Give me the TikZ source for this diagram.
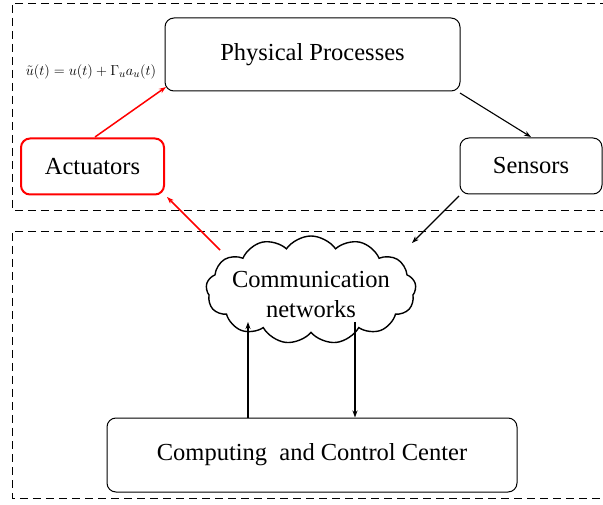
\documentclass[tikz,border=0pt]{standalone}
\usepackage{fontspec}
\setmainfont{Liberation Serif}
\usetikzlibrary{shapes.symbols,arrows.meta}
\begin{document}
\begin{tikzpicture}[x=1pt,y=-1pt,
  box/.style={draw,rounded corners=9pt,line width=1pt,font=\fontsize{24.5}{26}\selectfont},
  zone/.style={draw,line width=0.9pt,dash pattern=on 8pt off 5pt},
  arr/.style={-{Stealth[length=7pt,width=5pt]},line width=1.1pt},
  redarr/.style={arr,draw=red,line width=1.5pt}]
\useasboundingbox (0,0) rectangle (603,505);
\draw[zone] (608,3) -- (12,3) -- (12,210) -- (608,210);
\draw[zone] (608,231) -- (12,231) -- (12,498) -- (608,498);
\node[box,minimum width=295pt,minimum height=73pt] (pp) at (312.5,54.5) {Physical Processes};
\node[box,draw=red,line width=2pt,minimum width=143pt,minimum height=56pt] (act) at (92.5,166.5) {Actuators};
\node[box,minimum width=142pt,minimum height=56pt] (sen) at (531,166) {Sensors};
\node[cloud,cloud puffs=13,cloud puff arc=110,draw,line width=1.4pt,aspect=1.9,minimum width=210pt,minimum height=108pt,inner sep=0pt] (cn) at (311,290) {};
\node[align=center,font=\fontsize{24.5}{30}\selectfont] (cnt) at ([yshift=-5pt]cn.center) {Communication\\networks};
\node[box,minimum width=410pt,minimum height=74pt] (cc) at (312,455) {Computing\ \ and Control Center};
\node[font=\fontsize{15}{17}\selectfont] (eq) at (91,72) {$\tilde{u}(t)=u(t)+\Gamma_u a_u(t)$};
\coordinate (a1) at (95,137);
\coordinate (p1) at (166,87);
\draw[redarr] (a1) -- (p1);
\coordinate (c1) at (220,250);
\coordinate (a2) at (167,197);
\draw[redarr] (c1) -- (a2);
\coordinate (p2) at (460,93);
\coordinate (s1) at (531,137);
\draw[arr] (p2) -- (s1);
\coordinate (s2) at (459,196);
\coordinate (c2) at (412,243);
\draw[arr] (s2) -- (c2);
\draw[arr] (cc.north -| 248,0) -- (248,322);
\draw[arr] (355,322) -- (cc.north -| 355,0);
\end{tikzpicture}
\end{document}
